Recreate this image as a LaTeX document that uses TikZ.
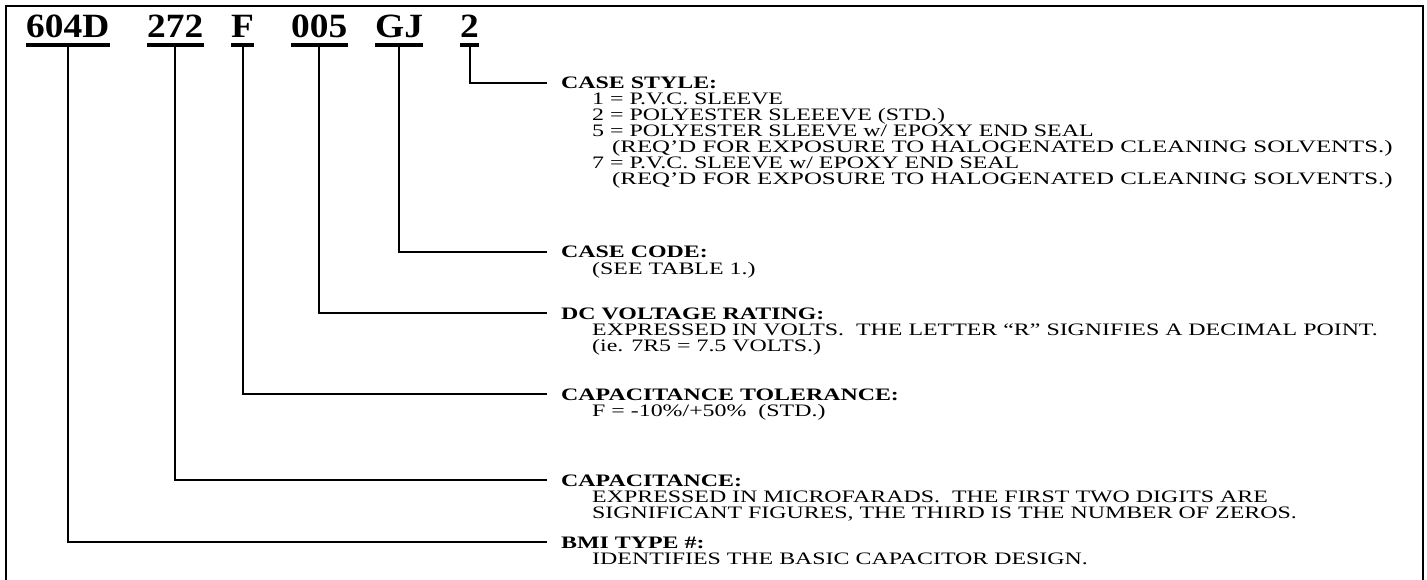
\documentclass[tikz,border=0pt]{standalone}
\usepackage{fontspec}
\setmainfont{Liberation Serif}
\newfontfamily\bodyf{Liberation Serif}[FakeStretch=1.365]
\newfontfamily\headf{Liberation Serif}[FakeStretch=1.1]
\begin{document}
\begin{tikzpicture}[x=1pt,y=-1pt,
  head/.style={anchor=base west,inner sep=0pt,font=\headf\fontsize{34}{34}\selectfont\bfseries},
  title/.style={anchor=base west,inner sep=0pt,text height=12pt,text depth=0pt,font=\bodyf\fontsize{17.5}{17.5}\selectfont\bfseries},
  body/.style={anchor=base west,inner sep=0pt,text height=11.5pt,text depth=3pt,font=\bodyf\fontsize{17.5}{17.5}\selectfont},
  underl/.style={line width=3.5pt},
  conn/.style={line width=2pt},
  frame/.style={line width=2.5pt}]
\useasboundingbox (0,0) rectangle (1427,580);
\fill[white] (0,0) rectangle (1427,580);
\draw[frame] (6,582) -- (6,6) -- (1423,6) -- (1423,582);
% header codes
\node[head] (h1) at (26,38) {604D};
\node[head] (h2) at (147,38) {272};
\node[head] (h3) at (231,38) {F};
\node[head] (h4) at (291,38) {005};
\node[head] (h5) at (375,38) {GJ};
\node[head] (h6) at (460,38) {2};
\foreach \h in {h1,h2,h3,h4,h5,h6}
  \draw[underl] ([yshift=-7pt]\h.base west) -- ([yshift=-7pt]\h.base east);
% titles
\node[title] (t6) at (561,89) {CASE STYLE:};
\node[title] (t5) at (561,258) {CASE CODE:};
\node[title] (t4) at (561,319) {DC VOLTAGE RATING:};
\node[title] (t3) at (561,400) {CAPACITANCE TOLERANCE:};
\node[title] (t2) at (561,486) {CAPACITANCE:};
\node[title] (t1) at (561,548) {BMI TYPE \#:};
% body lines
\node[body] (s1) at (592,105) {1 = P.V.C. SLEEVE};
\node[body] (s2) at (592,121) {2 = POLYESTER SLEEEVE (STD.)};
\node[body] (s3) at (592,137) {5 = POLYESTER SLEEVE w/ EPOXY END SEAL};
\node[body] (s4) at (612,153) {\scalebox{1.04}[1]{(REQ’D FOR EXPOSURE TO HALOGENATED CLEANING SOLVENTS.)}};
\node[body] (s5) at (592,169) {7 = P.V.C. SLEEVE w/ EPOXY END SEAL};
\node[body] (s6) at (612,185) {\scalebox{1.04}[1]{(REQ’D FOR EXPOSURE TO HALOGENATED CLEANING SOLVENTS.)}};
\node[body] (c1) at (592,274) {(SEE TABLE 1.)};
\node[body] (d1) at (592,335) {EXPRESSED IN VOLTS.\ \ THE LETTER “R” SIGNIFIES A DECIMAL POINT.};
\node[body] (d2) at (592,351) {(ie. 7R5 = 7.5 VOLTS.)};
\node[body] (f1) at (592,416) {F = -10\%/+50\%\ \ (STD.)};
\node[body] (p1) at (592,502) {EXPRESSED IN MICROFARADS.\ \ THE FIRST TWO DIGITS ARE};
\node[body] (p2) at (592,518) {SIGNIFICANT FIGURES, THE THIRD IS THE NUMBER OF ZEROS.};
\node[body] (b1) at (592,564) {IDENTIFIES THE BASIC CAPACITOR DESIGN.};
% connectors
\draw[conn] ([yshift=-8.75pt]h6.base) |- ([xshift=-14pt]t6.west);
\draw[conn] ([yshift=-8.75pt]h5.base) |- ([xshift=-14pt]t5.west);
\draw[conn] ([yshift=-8.75pt]h4.base) |- ([xshift=-14pt]t4.west);
\draw[conn] ([yshift=-8.75pt]h3.base) |- ([xshift=-14pt]t3.west);
\draw[conn] ([yshift=-8.75pt]h2.base) |- ([xshift=-14pt]t2.west);
\draw[conn] ([yshift=-8.75pt]h1.base) |- ([xshift=-14pt]t1.west);
\end{tikzpicture}
\end{document}
